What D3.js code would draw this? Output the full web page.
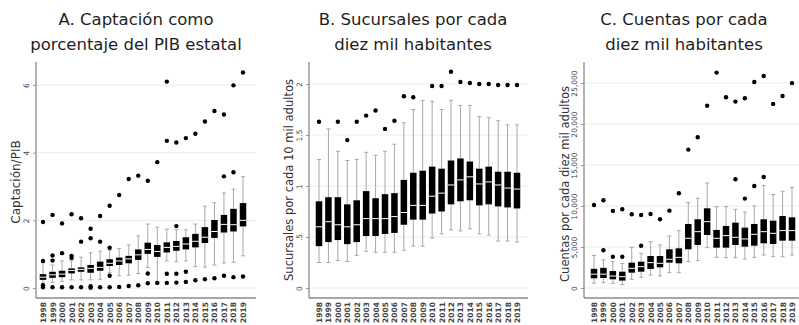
<!DOCTYPE html>
<html>
<head>
<meta charset="utf-8">
<script src="https://cdn.jsdelivr.net/npm/d3@7"></script>
<style>
  html, body { margin: 0; padding: 0; background: #fff; }
  svg { display: block; }
  .title { font-family: "DejaVu Sans", sans-serif; fill: #1e1e1e; }
  .ytitle { font-family: "DejaVu Sans", sans-serif; fill: #333; }
  .tick text { font-family: "DejaVu Sans", sans-serif; fill: #444; }
</style>
</head>
<body>
<svg id="chart" width="799" height="325"></svg>
<script>
// Years on the horizontal axis of every panel
const years = ["1998","1999","2000","2001","2002","2003","2004","2005","2006","2007","2008",
               "2009","2010","2011","2012","2013","2014","2015","2016","2017","2018","2019"];

// ---- A. Captación como porcentaje del PIB estatal ----
const captLo  = [0.14,0.17,0.19,0.24,0.24,0.24,0.26,0.45,0.36,0.38,0.43,0.61,0.19,0.80,0.78,0.80,0.63,0.62,0.68,0.74,0.76,0.95];
const captQ1  = [0.24,0.30,0.32,0.43,0.48,0.45,0.51,0.65,0.68,0.73,0.83,1.01,0.92,1.05,1.10,1.14,1.20,1.33,1.48,1.64,1.67,1.82];
const captMed = [0.32,0.39,0.41,0.52,0.55,0.58,0.61,0.73,0.80,0.86,0.98,1.14,1.08,1.20,1.23,1.30,1.38,1.50,1.67,1.88,1.87,2.00];
const captQ3  = [0.41,0.48,0.51,0.58,0.61,0.68,0.78,0.85,0.90,0.95,1.14,1.34,1.27,1.35,1.39,1.50,1.60,1.80,2.01,2.16,2.34,2.51];
const captHi  = [0.75,0.68,0.80,0.80,0.91,1.04,1.09,1.12,1.17,1.27,1.54,1.89,1.80,1.74,1.72,1.72,1.89,2.42,2.52,2.81,2.92,3.29];
const captOut = [
  [1.95,0.80,0.08,0.02],[2.16,0.96,0.81,0.02],[1.91,1.03,0.02],[2.18,0.95,0.89,0.02],
  [2.06,1.37,0.02],[1.75,1.47,0.05,0.01],[2.13,1.37,0.02],[2.43,1.19,0.36,0.02],
  [2.75,0.03],[3.22,0.06],[3.32,0.08],[3.17,0.43,0.14],[3.72,0.15],[6.10,4.35,0.42,0.15],
  [4.30,1.83,0.42,0.16],[4.43,0.48,0.18],[4.56,0.23],[4.92,0.26],[5.23,0.29],
  [5.13,3.30,0.36],[5.99,3.42,0.32],[6.37,0.34]
];
const captTicks = [0, 2, 4, 6];

// ---- B. Sucursales por cada diez mil habitantes ----
const sucLo  = [0.25,0.25,0.27,0.26,0.32,0.36,0.35,0.35,0.35,0.37,0.41,0.41,0.49,0.53,0.57,0.56,0.58,0.53,0.52,0.46,0.46,0.45];
const sucQ1  = [0.41,0.45,0.47,0.43,0.45,0.51,0.51,0.53,0.54,0.62,0.67,0.67,0.73,0.75,0.82,0.85,0.86,0.81,0.82,0.80,0.79,0.78];
const sucMed = [0.60,0.65,0.62,0.60,0.62,0.68,0.68,0.68,0.70,0.74,0.81,0.81,0.90,0.93,1.01,1.06,1.09,1.02,1.04,1.01,0.98,0.97];
const sucQ3  = [0.85,0.89,0.89,0.82,0.86,0.95,0.88,0.92,0.93,1.06,1.13,1.15,1.19,1.17,1.25,1.27,1.24,1.17,1.19,1.14,1.14,1.13];
const sucHi  = [1.26,1.56,1.34,1.25,1.26,1.33,1.30,1.34,1.41,1.62,1.75,1.84,1.83,1.75,1.84,1.79,1.79,1.68,1.67,1.64,1.60,1.60];
const sucOut = [
  [1.63],[],[1.63],[1.45],[1.63],[1.69],[1.74],[1.56],[1.64],[1.88],[1.87],[],
  [1.98],[1.98],[2.12],[2.02],[2.01],[2.00],[2.00],[1.99],[1.99],[1.99]
];
const sucTicks = [0, 0.5, 1, 1.5, 2];

// ---- C. Cuentas por cada diez mil habitantes ----
const ctaLo  = [600,650,570,400,1060,1300,1590,1460,1870,1870,3210,3340,4920,3740,3700,3700,3540,3740,4030,3820,3820,4030];
const ctaQ1  = [1180,1220,1060,900,1870,1990,2320,2520,3090,3010,4720,5250,6470,4920,4920,5250,5040,5160,5450,5370,5770,5770];
const ctaMed = [1690,1690,1460,1380,2400,2600,3090,3010,3500,3740,6060,6870,8090,6060,6390,6180,5980,6550,6870,6670,7000,7000];
const ctaQ3  = [2340,2460,2070,1990,3090,3210,3900,3900,4720,4840,7810,8380,9720,7080,7560,7970,7360,7810,8380,8210,8780,8620];
const ctaHi  = [3960,3420,3210,3000,4960,4230,5650,5250,6340,6990,10410,10940,12800,9920,9920,9600,9270,10000,12500,11400,11800,12250];
const ctaOut = [
  [10130],[10700,4600],[9400,3820],[9600,3820],[8990],[8910,5160],[9030],[8380],[9430],[11550],
  [16880],[18380],[22220],[26270],[23260],[22730,13260],[23140,10900],[25130,12440],[25860,13540],
  [22450],[23420],[24990]
];
const ctaTicks = [0, 5000, 10000, 15000, 20000, 25000];

const svg = d3.select("#chart");

function panel(cfg) {
  const g = svg.append("g");
  const x = d3.scalePoint().domain(years).range(cfg.xRange);
  const y = d3.scaleLinear().domain(cfg.yDomain).range(cfg.yRange);
  const top = cfg.top, bottom = cfg.bottom;

  // titles (two lines)
  cfg.title.forEach((t, i) => {
    g.append("text").attr("class", "title")
      .attr("x", cfg.titleX).attr("y", 25 + i * 25)
      .attr("text-anchor", "middle").attr("font-size", 16.5).text(t);
  });

  // gridlines
  g.append("g").selectAll("line").data(cfg.ticks).join("line")
    .attr("x1", cfg.left).attr("x2", cfg.right)
    .attr("y1", d => y(d)).attr("y2", d => y(d))
    .attr("stroke", "#ececec").attr("stroke-width", 1);

  // y axis
  const ya = g.append("g").attr("transform", `translate(${cfg.left},0)`)
    .call(d3.axisLeft(y).tickValues(cfg.ticks).tickSize(3).tickFormat(cfg.fmt));
  ya.select(".domain").remove();
  ya.selectAll(".tick line").attr("stroke", "#999");
  ya.selectAll(".tick text")
    .attr("font-size", 7.5)
    .attr("text-anchor", "middle")
    .attr("x", 0).attr("dy", 0)
    .attr("transform", "translate(-7,0) rotate(-90)");

  // axis frame lines
  g.append("line").attr("x1", cfg.left).attr("x2", cfg.left)
    .attr("y1", top).attr("y2", bottom).attr("stroke", "#8a8a8a").attr("stroke-width", 1.3);
  g.append("line").attr("x1", cfg.left).attr("x2", cfg.right)
    .attr("y1", bottom).attr("y2", bottom).attr("stroke", "#8a8a8a").attr("stroke-width", 1.3);

  // x axis labels
  const xa = g.append("g").attr("transform", `translate(0,${bottom})`)
    .call(d3.axisBottom(x).tickSize(0));
  xa.select(".domain").remove();
  xa.selectAll(".tick text")
    .attr("font-size", 7.5).attr("font-weight", "bold")
    .attr("text-anchor", "end")
    .attr("y", 0).attr("dy", "0.33em")
    .attr("transform", "translate(0,4) rotate(-90)");

  // y axis title
  g.append("text").attr("class", "ytitle")
    .attr("transform", `translate(${cfg.ytX},${cfg.ytY}) rotate(-90)`)
    .attr("text-anchor", "middle").attr("font-size", cfg.ytSize)
    .text(cfg.ytitle);

  const bw = 6.5, cw = 4;
  const rows = years.map((yr, i) => ({
    yr, lo: cfg.lo[i], q1: cfg.q1[i], med: cfg.med[i], q3: cfg.q3[i], hi: cfg.hi[i], out: cfg.out[i]
  }));
  const b = g.append("g").selectAll("g").data(rows).join("g")
    .attr("transform", d => `translate(${x(d.yr)},0)`);

  // whiskers
  b.append("line").attr("x1", 0).attr("x2", 0)
    .attr("y1", d => y(d.hi)).attr("y2", d => y(d.q3))
    .attr("stroke", "#a8a8a8").attr("stroke-width", 1);
  b.append("line").attr("x1", 0).attr("x2", 0)
    .attr("y1", d => y(d.q1)).attr("y2", d => y(d.lo))
    .attr("stroke", "#a8a8a8").attr("stroke-width", 1);
  b.append("line").attr("x1", -cw / 2).attr("x2", cw / 2)
    .attr("y1", d => y(d.hi)).attr("y2", d => y(d.hi))
    .attr("stroke", "#a8a8a8").attr("stroke-width", 1);
  b.append("line").attr("x1", -cw / 2).attr("x2", cw / 2)
    .attr("y1", d => y(d.lo)).attr("y2", d => y(d.lo))
    .attr("stroke", "#a8a8a8").attr("stroke-width", 1);

  // box
  b.append("rect").attr("x", -bw / 2).attr("width", bw)
    .attr("y", d => y(d.q3)).attr("height", d => y(d.q1) - y(d.q3))
    .attr("fill", "#000");
  // median
  b.append("line").attr("x1", -bw / 2).attr("x2", bw / 2)
    .attr("y1", d => y(d.med)).attr("y2", d => y(d.med))
    .attr("stroke", "#fff").attr("stroke-width", 1);

  // outside values
  b.selectAll("circle").data(d => d.out).join("circle")
    .attr("cx", 0).attr("cy", v => y(v)).attr("r", 2.2).attr("fill", "#000");
}

panel({
  title: ["A. Captación como", "porcentaje del PIB estatal"], titleX: 136,
  left: 36, right: 256, top: 62, bottom: 298,
  xRange: [43, 243], yDomain: [0, 6], yRange: [288, 85],
  ticks: captTicks, fmt: d3.format("d"),
  ytitle: "Captación/PIB", ytX: 20, ytY: 182, ytSize: 12,
  lo: captLo, q1: captQ1, med: captMed, q3: captQ3, hi: captHi, out: captOut
});

panel({
  title: ["B. Sucursales por cada", "diez mil habitantes"], titleX: 413,
  left: 309, right: 528, top: 62, bottom: 298,
  xRange: [319, 517], yDomain: [0, 2], yRange: [288, 84],
  ticks: sucTicks, fmt: d => String(d).replace(/^0\./, "."),
  ytitle: "Sucursales por cada 10 mil adultos", ytX: 293, ytY: 180, ytSize: 11.5,
  lo: sucLo, q1: sucQ1, med: sucMed, q3: sucQ3, hi: sucHi, out: sucOut
});

panel({
  title: ["C. Cuentas por cada", "diez mil habitantes"], titleX: 684,
  left: 584, right: 799, top: 62, bottom: 298,
  xRange: [594, 792], yDomain: [0, 25000], yRange: [288, 83],
  ticks: ctaTicks, fmt: d3.format(","),
  ytitle: "Cuentas por cada diez mil adultos", ytX: 569, ytY: 184, ytSize: 11.5,
  lo: ctaLo, q1: ctaQ1, med: ctaMed, q3: ctaQ3, hi: ctaHi, out: ctaOut
});
</script>
</body>
</html>
